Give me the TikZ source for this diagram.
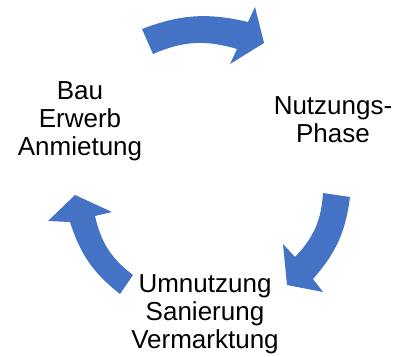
\documentclass[tikz,border=0pt]{standalone}
\usepackage{xcolor}
\usepackage{fontspec}
\setmainfont{Liberation Sans}
\usepackage{tikz}
\definecolor{zyklusblau}{RGB}{68,114,196}

\begin{document}
\begin{tikzpicture}[
        x=1pt, y=1pt,
        pfeil/.style={fill=zyklusblau, draw=none},
        phase/.style={font=\fontsize{26}{28}\selectfont, align=center, inner sep=0pt, text=black}
    ]
        \useasboundingbox (0,0) rectangle (398,-356);
        % Pfeil oben
        \fill[pfeil] (142,-29) to[bend left=17] (248,-22) -- (255,-7) -- (264,-43)
            -- (230,-64) -- (237,-49) to[bend right=20] (153,-54) -- cycle;
        % Pfeil rechts
        \fill[pfeil] (350,-197) to[bend left=17] (313,-279) -- (323,-292) -- (287,-285)
            -- (283,-244) -- (295,-257) to[bend right=20] (323,-193) -- cycle;
        % Pfeil links
        \fill[pfeil] (120,-294) to[bend left=17] (70,-222) -- (48,-221) -- (75,-195)
            -- (112,-212) -- (95,-216) to[bend right=20] (133,-275) -- cycle;
        % Phasen
        \node[phase] (bau) at (80,-121.5) {Bau\\Erwerb\\Anmietung};
        \node[phase] (nutzung) at (333,-120) {Nutzungs-\\Phase};
        \node[phase] (umnutzung) at (205,-314.2) {Umnutzung\\Sanierung\\Vermarktung};
    \end{tikzpicture}
\end{document}
